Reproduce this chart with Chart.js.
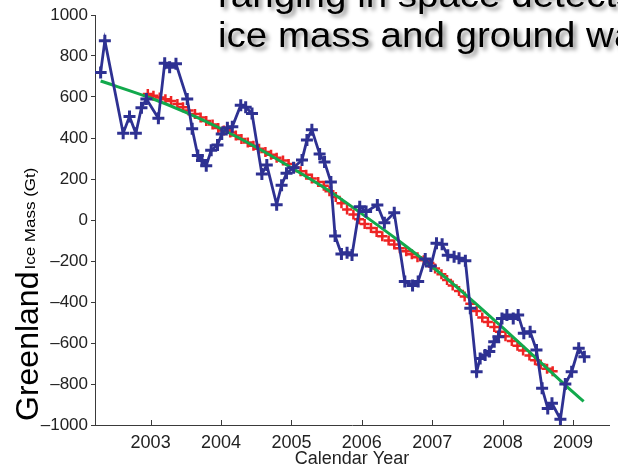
<!DOCTYPE html>
<html>
<head>
<meta charset="utf-8">
<script src="https://cdn.jsdelivr.net/npm/chart.js@4.4.1/dist/chart.umd.min.js"></script>
<style>
  html, body { margin: 0; padding: 0; background: #fff; overflow: hidden; }
  #wrap { position: relative; width: 618px; height: 470px; overflow: hidden; }
  #headline {
    position: absolute; left: 218px; top: -25px; white-space: nowrap;
    font-family: "Liberation Sans", Arial, sans-serif; font-size: 35px; line-height: 40px; color: #000;
    text-shadow: 3px 3px 4px rgba(0, 0, 0, 0.45);
    transform: scaleX(1.1); transform-origin: 0 0;
  }
</style>
</head>
<body>
<div id="wrap">
  <canvas id="myChart" width="618" height="470"></canvas>
  <div id="headline">ranging in space detects changes in<br>ice mass and ground water</div>
</div>
<script>
// ==== data ====
const yearTicks = [2003, 2004, 2005, 2006, 2007, 2008, 2009];

// monthly solutions (blue)
const blueYears = [2002.29, 2002.35, 2002.61, 2002.70, 2002.79, 2002.87, 2002.94, 2003.11, 2003.20, 2003.27,
  2003.36, 2003.52, 2003.59, 2003.67, 2003.73, 2003.79, 2003.86, 2003.95, 2004.01, 2004.09,
  2004.16, 2004.28, 2004.35, 2004.44, 2004.58, 2004.65, 2004.79, 2004.86, 2004.93, 2005.03,
  2005.15, 2005.22, 2005.29, 2005.40, 2005.47, 2005.56, 2005.62, 2005.71, 2005.79, 2005.86,
  2005.97, 2006.06, 2006.22, 2006.32, 2006.46, 2006.61, 2006.72, 2006.80, 2006.90, 2006.98,
  2007.06, 2007.14, 2007.22, 2007.31, 2007.38, 2007.47, 2007.54, 2007.63, 2007.68, 2007.75,
  2007.81, 2007.88, 2007.94, 2007.99, 2008.06, 2008.15, 2008.22, 2008.30, 2008.39, 2008.48,
  2008.56, 2008.64, 2008.70, 2008.82, 2008.89, 2008.98, 2009.08, 2009.16];
const blueMass = [720, 875, 423, 505, 423, 548, 590, 496, 765, 745,
  762, 590, 445, 315, 290, 265, 340, 366, 420, 450,
  455, 560, 550, 520, 225, 268, 75, 170, 228, 255,
  293, 390, 440, 322, 283, 185, -78, -166, -160, -171,
  65, 41, 73, -13, 35, -300, -320, -300, -190, -224,
  -114, -118, -172, -179, -187, -199, -431, -740, -675, -659,
  -642, -594, -569, -480, -463, -480, -463, -553, -545, -634,
  -821, -919, -894, -972, -800, -740, -626, -667];

// smoothed series (red)
const redYears = [2002.96, 2003.04, 2003.13, 2003.21, 2003.29, 2003.38, 2003.46, 2003.54, 2003.63, 2003.71,
  2003.79, 2003.88, 2003.96, 2004.04, 2004.13, 2004.21, 2004.29, 2004.38, 2004.46, 2004.54,
  2004.63, 2004.71, 2004.79, 2004.88, 2004.96, 2005.04, 2005.13, 2005.21, 2005.29, 2005.38,
  2005.46, 2005.54, 2005.63, 2005.71, 2005.79, 2005.88, 2005.96, 2006.04, 2006.13, 2006.21,
  2006.29, 2006.38, 2006.46, 2006.54, 2006.63, 2006.71, 2006.79, 2006.88, 2006.96, 2007.04,
  2007.13, 2007.21, 2007.29, 2007.38, 2007.46, 2007.54, 2007.63, 2007.71, 2007.79, 2007.88,
  2007.96, 2008.04, 2008.13, 2008.21, 2008.29, 2008.38, 2008.46, 2008.54, 2008.63, 2008.71];
const redMass = [615, 606, 598, 589, 580, 566, 550, 534, 517, 500,
  483, 466, 449, 436, 427, 412, 395, 378, 362, 347,
  332, 318, 304, 290, 273, 256, 238, 221, 203, 185,
  167, 140, 112, 82, 51, 27, 4, -19, -39, -59,
  -79, -100, -120, -138, -153, -167, -182, -196, -210, -236,
  -265, -293, -320, -346, -373, -408, -444, -475, -498, -522,
  -545, -567, -590, -613, -636, -661, -684, -705, -725, -738];

// fitted trend (green)
const greenYears = [2002.29, 2003.0, 2003.5, 2004.0, 2004.5, 2005.0, 2005.5, 2006.0,
  2006.5, 2007.0, 2007.5, 2008.0, 2008.5, 2009.0, 2009.15];
const greenMass = [678, 595, 525, 445, 355, 255, 150, 30,
  -95, -228, -372, -525, -682, -840, -885];

const pts = (xs, ys) => xs.map((x, i) => ({ x: x, y: ys[i] }));

const FONT = '"Liberation Sans", Arial, Helvetica, sans-serif';
const AXIS = '#3a3a3a';

// ==== left side labels and inward x ticks ====
const sideLabel = {
  id: 'sideLabel',
  afterDraw(chart) {
    const ctx = chart.ctx;
    const xs = chart.scales.x;
    const bottom = chart.chartArea.bottom;
    ctx.save();
    ctx.strokeStyle = AXIS;
    ctx.lineWidth = 1;
    xs.ticks.forEach(t => {
      const px = Math.round(xs.getPixelForValue(t.value)) + 0.5;
      ctx.beginPath();
      ctx.moveTo(px, bottom);
      ctx.lineTo(px, bottom - 5);
      ctx.stroke();
    });
    ctx.restore();

    ctx.save();
    ctx.translate(38, 421);
    ctx.rotate(-Math.PI / 2);
    ctx.fillStyle = '#000';
    ctx.textBaseline = 'alphabetic';
    ctx.font = '32px ' + FONT;
    ctx.fillText('Greenland', 0, 0);
    const w = ctx.measureText('Greenland').width;
    ctx.translate(w + 2, -3);
    ctx.font = '14px ' + FONT;
    ctx.scale(102 / ctx.measureText('Ice Mass (Gt)').width, 1);
    ctx.fillText('Ice Mass (Gt)', 0, 0);
    ctx.restore();
  }
};

let myChart = new Chart(document.getElementById('myChart'), {
  type: 'scatter',
  data: {
    datasets: [
      {
        label: 'monthly',
        data: pts(blueYears, blueMass),
        showLine: true,
        borderColor: '#2e3192',
        backgroundColor: '#2e3192',
        borderWidth: 2.8,
        pointStyle: 'cross',
        pointRadius: 6,
        pointBorderWidth: 3,
        order: 0
      },
      {
        label: 'trend',
        data: pts(greenYears, greenMass),
        showLine: true,
        borderColor: '#12a94c',
        borderWidth: 3,
        pointRadius: 0,
        cubicInterpolationMode: 'monotone',
        order: 1
      },
      {
        label: 'smoothed',
        data: pts(redYears, redMass),
        showLine: false,
        borderColor: '#ee2424',
        backgroundColor: '#ee2424',
        pointStyle: 'cross',
        pointRadius: 5,
        pointBorderWidth: 2.5,
        order: 2
      }
    ]
  },
  options: {
    responsive: false,
    animation: false,
    layout: { padding: { top: 15, right: 4, left: 0, bottom: 0 } },
    plugins: { legend: { display: false }, tooltip: { enabled: false } },
    scales: {
      x: {
        type: 'linear',
        min: 2002.21,
        max: 2009.51,
        afterBuildTicks: s => { s.ticks = yearTicks.map(v => ({ value: v })); },
        afterFit: s => { s.height = 45; },
        grid: { drawOnChartArea: false, drawTicks: false },
        border: { color: AXIS, width: 1 },
        ticks: { color: '#222', font: { family: FONT, size: 18 }, padding: 7, maxRotation: 0,
          callback: v => String(v) },
        title: { display: true, text: 'Calendar Year', color: '#222',
          font: { family: FONT, size: 18 }, padding: { top: 0, bottom: 0 } }
      },
      y: {
        min: -1000,
        max: 1000,
        afterFit: s => { s.width = 95; },
        grid: { drawOnChartArea: false, drawTicks: true, tickLength: 4, color: AXIS },
        border: { color: AXIS, width: 1 },
        ticks: { stepSize: 200, color: '#222', font: { family: FONT, size: 17 }, padding: 3,
          callback: v => v < 0 ? '\u2013' + Math.abs(v) : String(v) }
      }
    }
  },
  plugins: [sideLabel]
});
</script>
</body>
</html>
